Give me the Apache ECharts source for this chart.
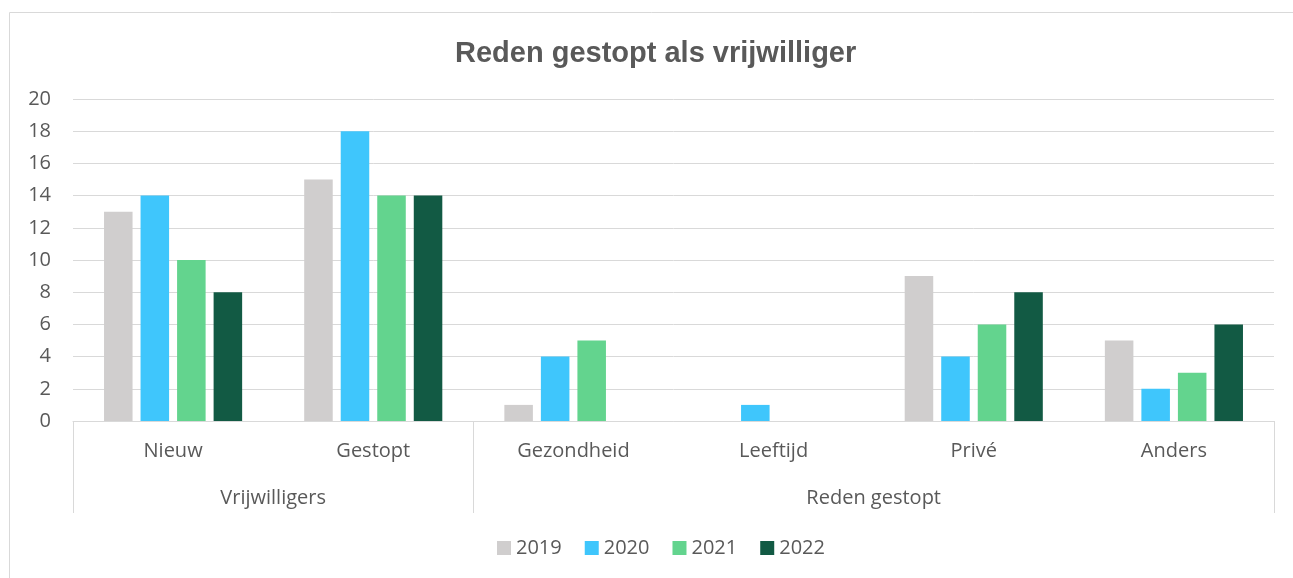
<!DOCTYPE html>
<html>
<head>
<meta charset="utf-8">
<script src="https://cdn.jsdelivr.net/npm/echarts@6/dist/echarts.min.js"></script>
<style>
  html, body { margin: 0; padding: 0; background: #fff; }
  #chart { width: 1293px; height: 578px; }
</style>
</head>
<body>
<div id="chart"></div>
<script>
const categories = ['Nieuw', 'Gestopt', 'Gezondheid', 'Leeftijd', 'Privé', 'Anders'];
const groupLabels = ['Vrijwilligers', 'Reden gestopt'];
const groupBounds = [0, 2, 6];   // category index where each group starts/ends
const groupCenters = [1, 4];
const years = ['2019', '2020', '2021', '2022'];
const v2019 = [13, 15, 1, 0, 9, 5];
const v2020 = [14, 18, 4, 1, 4, 2];
const v2021 = [10, 14, 5, 0, 6, 3];
const v2022 = [8, 14, 0, 0, 8, 6];
const colors = ['#d0cece', '#3fc6fc', '#63d48e', '#125a44'];

const chart = echarts.init(document.getElementById('chart'));
const font = '"Open Sans", sans-serif';
const txt = '#595959';

const seriesData = [v2019, v2020, v2021, v2022];

chart.setOption({
  textStyle: { fontFamily: font },
  title: {
    text: 'Reden gestopt als vrijwilliger',
    left: 450,
    top: 34,
    textStyle: { fontSize: 29, fontWeight: 'bold', color: txt, fontFamily: '"Liberation Sans", Arial, sans-serif' }
  },
  legend: {
    bottom: 15,
    left: 492,
    icon: 'rect',
    itemWidth: 14,
    itemHeight: 14,
    itemGap: 23,
    textStyle: { fontSize: 20, color: txt, fontFamily: font },
    data: years
  },
  graphic: [{
    type: 'rect',
    shape: { x: 9.5, y: 12.5, width: 1400, height: 700 },
    style: { fill: 'none', stroke: '#d9d9d9', lineWidth: 1 },
    silent: true
  }],
  grid: { left: 73, right: 19, top: 99, bottom: 157, containLabel: false },
  xAxis: [{
    type: 'category',
    data: categories,
    axisLine: { lineStyle: { color: '#d9d9d9', width: 1 } },
    axisTick: { show: false },
    axisLabel: { fontSize: 20, color: txt, margin: 20, fontFamily: font }
  }, {
    type: 'value',
    position: 'bottom',
    min: 0,
    max: 6,
    axisLine: { show: false },
    splitLine: { show: false },
    axisTick: {
      show: true,
      customValues: groupBounds,
      length: 92,
      lineStyle: { color: '#d9d9d9', width: 1 }
    },
    axisLabel: {
      customValues: groupCenters,
      margin: 67,
      fontSize: 20,
      color: txt,
      fontFamily: font,
      formatter: function (v) { return groupLabels[groupCenters.indexOf(v)]; }
    }
  }],
  yAxis: {
    type: 'value',
    min: 0,
    max: 20,
    interval: 2,
    axisLine: { show: false },
    axisTick: { show: false },
    splitLine: { lineStyle: { color: '#d9d9d9', width: 1 } },
    axisLabel: { fontSize: 20, color: txt, margin: 22, fontFamily: font }
  },
  series: years.map(function (y, i) {
    return {
      name: y,
      type: 'bar',
      xAxisIndex: 0,
      data: seriesData[i],
      barGap: '28%',
      barCategoryGap: '31%',
      itemStyle: { color: colors[i] }
    };
  })
});
</script>
</body>
</html>
